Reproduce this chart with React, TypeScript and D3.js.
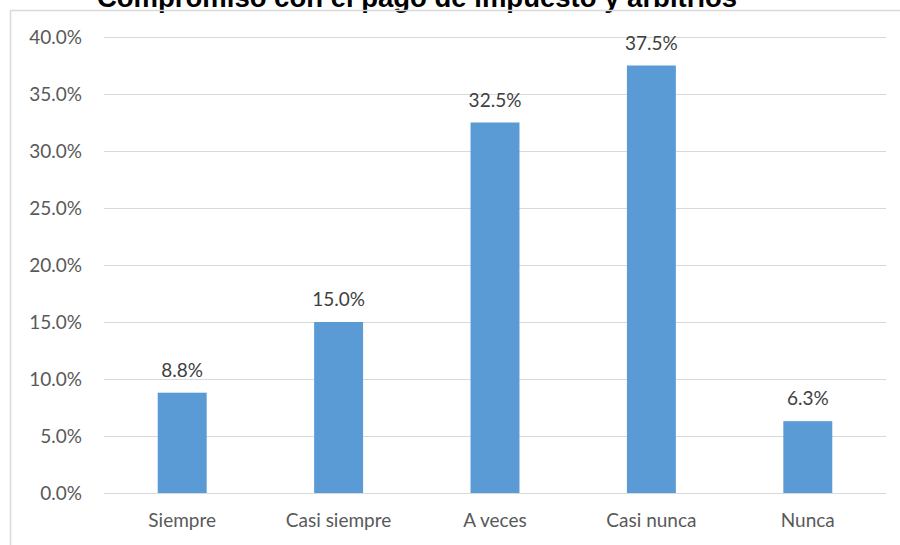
import React from "react";
import * as d3 from "d3";

const categories = ["Siempre", "Casi siempre", "A veces", "Casi nunca", "Nunca"];
const values = [8.8, 15.0, 32.5, 37.5, 6.3];
const yTicks = [0, 5, 10, 15, 20, 25, 30, 35, 40];
const title = "Compromiso con el pago de impuesto y arbitrios";

export default function App() {
  const W = 900, H = 545;
  const left = 104, right = 886, top = 37, bottom = 493;
  const x = d3.scaleBand<string>().domain(categories).range([left, right]).paddingInner(0.687).paddingOuter(0.3435);
  const y = d3.scaleLinear().domain([0, 40]).range([bottom, top]);
  const font = "Lato, 'Open Sans', sans-serif";
  const fs = 19;
  return (
    <svg width={W} height={H} style={{ position: "absolute", left: 0, top: 0, background: "#fff" }}>
      <rect x={0} y={0} width={W} height={H} fill="#fff" />
      <text x={417} y={7} textAnchor="middle" fontFamily="'Liberation Sans', Arial, sans-serif" fontWeight="bold" fontSize={27.5} fill="#000">{title}</text>
      <line x1={10.5} y1={10.5} x2={W} y2={10.5} stroke="#D9D9D9" strokeWidth={1.5} />
      <line x1={10.5} y1={10.5} x2={10.5} y2={H} stroke="#D9D9D9" strokeWidth={1.5} />
      {yTicks.map((t) => (
        <g key={t}>
          <line x1={left} x2={right} y1={Math.round(y(t)) + 0.5} y2={Math.round(y(t)) + 0.5} stroke="#D9D9D9" strokeWidth={1} />
          <text x={82} y={y(t) + 7} textAnchor="end" fontFamily={font} fontSize={fs} fill="#595959">{t.toFixed(1)}%</text>
        </g>
      ))}
      {categories.map((c, i) => (
        <g key={c}>
          <rect x={x(c)!} y={y(values[i])} width={x.bandwidth()} height={bottom - y(values[i])} fill="#5B9BD5" />
          <text x={x(c)! + x.bandwidth() / 2} y={y(values[i]) - 16} textAnchor="middle" fontFamily={font} fontSize={fs} fill="#404040">{values[i].toFixed(1)}%</text>
          <text x={x(c)! + x.bandwidth() / 2} y={527} textAnchor="middle" fontFamily={font} fontSize={fs} fill="#595959">{c}</text>
        </g>
      ))}
    </svg>
  );
}
